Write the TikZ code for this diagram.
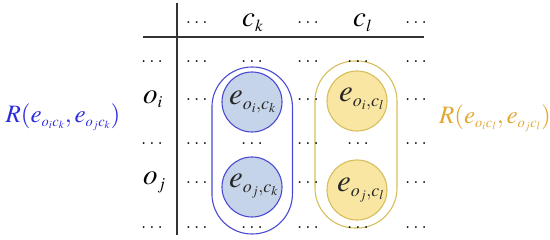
\documentclass[tikz,border=0pt]{standalone}
\usepackage{mathptmx}
\renewcommand\defaultscriptratio{.58}
\renewcommand\defaultscriptscriptratio{.43}
\definecolor{bstroke}{HTML}{4A4AD2}
\definecolor{bfill}{HTML}{C6D4EA}
\definecolor{ystroke}{HTML}{D6BE5C}
\definecolor{yfill}{HTML}{F9E6A2}
\definecolor{btext}{HTML}{2C2CE0}
\definecolor{ytext}{HTML}{E2A830}
\definecolor{rule}{HTML}{333333}
\tikzset{
  dotcell/.style={inner sep=0pt, font=\fontsize{23}{25}\bfseries\selectfont},
  bigmath/.style={inner sep=0pt, anchor=base west, font=\fontsize{29}{32}\selectfont},
  celltext/.style={inner sep=0pt, anchor=base west, font=\fontsize{31}{34}\selectfont, text=black!85},
  capsule/.style={draw, line width=1.1pt, rectangle, rounded corners=40pt, inner sep=0pt},
  bluecap/.style={capsule, draw=bstroke, minimum width=80.5pt, minimum height=167pt},
  yelcap/.style={capsule, draw=ystroke, minimum width=82pt, minimum height=167pt},
  bluecirc/.style={circle, draw=bstroke, fill=bfill, line width=1.1pt, minimum size=60pt, inner sep=0pt},
  yelcirc/.style={circle, draw=ystroke, fill=yfill, line width=1.1pt, minimum size=60pt, inner sep=0pt},
  rulestyle/.style={draw=rule, line width=1.3pt},
  rlabel/.style={inner sep=0pt, font=\fontsize{25}{28}\selectfont}
}
\begin{document}
\begin{tikzpicture}[x=1pt, y=-1pt]
\useasboundingbox (0,0) rectangle (550,240);
% table rules
\coordinate (vtop) at (177,3);
\coordinate (vbot) at (177,235);
\coordinate (hleft) at (143,37);
\coordinate (hright) at (424,37);
\draw[rulestyle] (vtop) -- (vbot);
\draw[rulestyle] (hleft) -- (hright);
% capsules
\node[bluecap] (capk) at (252.2,150.5) {};
\node[yelcap] (capl) at (356,144.5) {};
% circles
\node[bluecirc] (eik) at (252,102) {};
\node[bluecirc] (ejk) at (252,187) {};
\node[yelcirc] (eil) at (357,101) {};
\node[yelcirc] (ejl) at (357,190) {};
% circle texts
\node[celltext] (tik) at (229,105) {$e_{o_i,c_k}$};
\node[celltext] (tjk) at (229,188) {$e_{o_j,c_k}$};
\node[celltext] (til) at (339,102) {$e_{o_i,c_l}$};
\node[celltext] (tjl) at (337,192) {$e_{o_j,c_l}$};
% headers
\node[bigmath] (hck) at (242,27) {$c_k$};
\node[bigmath] (hcl) at (353,27) {$c_l$};
\node[bigmath] (roi) at (143,103.5) {$o_i$};
\node[bigmath] (roj) at (143,185) {$o_j$};
% dots
\foreach \x/\y/\n in {196.7/23/h1, 308/23/h2, 416/23/h3,
  152/62/a0, 196.7/62/a1, 252/62/a2, 308/62/a3, 358/62/a4, 416/62/a5,
  196.7/100/b1, 308/100/b3, 416/100/b5,
  152/144/c0, 196.7/144/c1, 252/144/c2, 308/144/c3, 358/144/c4, 416/144/c5,
  196.7/183/d1, 308/183/d3, 416/183/d5,
  152/228/e0, 196.7/228/e1, 252/228/e2, 308/228/e3, 358/228/e4, 416/228/e5}
  \node[dotcell] (dot-\n) at (\x,\y) {.\kern2.5pt.\kern2.5pt.};
% relation labels
\node[rlabel, text=btext] (relk) at (63,117) {$R(e_{o_i c_k},e_{o_j c_k})$};
\node[rlabel, text=ytext] (rell) at (495,118) {$R(e_{o_i c_l},e_{o_j c_l})$};
\end{tikzpicture}
\end{document}
